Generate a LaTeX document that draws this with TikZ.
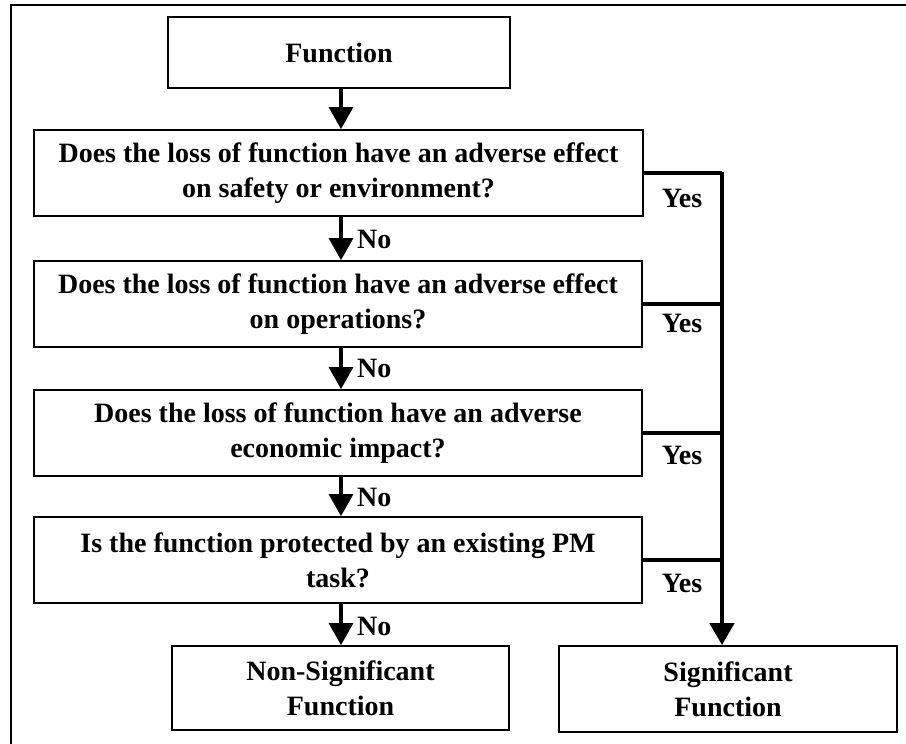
\documentclass[tikz,border=0pt]{standalone}
\usepackage{fontspec}
\setmainfont{Liberation Serif}
\usetikzlibrary{arrows.meta}
\begin{document}
\begin{tikzpicture}[x=1pt,y=-1pt,
  box/.style={draw,line width=1.8pt,rectangle,align=center,inner sep=0pt,
    font=\fontsize{28}{35}\selectfont\bfseries},
  lbl/.style={inner sep=0pt,font=\fontsize{28}{33}\selectfont\bfseries},
  flow/.style={line width=3.2pt,-{Triangle[width=24pt,length=22pt]}},
  branch/.style={line width=3.2pt},
  trunk/.style={line width=4.5pt,-{Triangle[width=24pt,length=22pt]}}]
\useasboundingbox (0,0) rectangle (906,744);
% outer frame (right and bottom sides lie outside the picture)
\draw[line width=2pt] (11,744) -- (11,5) -- (906,5);

\node[box,minimum width=342,minimum height=71] (func) at (339,52.5) {Function};
\node[box,minimum width=609,minimum height=86] (q1) at (338.5,173)
  {Does the loss of function have an adverse effect\\on safety or environment?};
\node[box,minimum width=608,minimum height=86] (q2) at (338,304)
  {Does the loss of function have an adverse effect\\on operations?};
\node[box,minimum width=608,minimum height=86] (q3) at (338,433)
  {Does the loss of function have an adverse\\economic impact?};
\node[box,minimum width=608,minimum height=86] (q4) at (338,560)
  {Is the function protected by an existing PM\\task?};
\node[box,minimum width=337,minimum height=84] (ns) at (340.5,688)
  {Non-Significant\\Function};
\node[box,minimum width=338,minimum height=86] (sig) at (728,689)
  {Significant\\Function};

% No path
\draw[flow] (func.south -| 341,0) -- (q1.north -| 341,0);
\draw[flow] (q1.south -| 341,0) -- (q2.north -| 341,0);
\draw[flow] (q2.south -| 341,0) -- (q3.north -| 341,0);
\draw[flow] (q3.south -| 341,0) -- (q4.north -| 341,0);
\draw[flow] (q4.south -| 341,0) -- (ns.north -| 341,0);

\node[lbl,anchor=west] (no1) at (357,239) {No};
\node[lbl,anchor=west] (no2) at (357,368) {No};
\node[lbl,anchor=west] (no3) at (357,497) {No};
\node[lbl,anchor=west] (no4) at (357,626) {No};

% Yes path
\coordinate (vtop) at (722,172.4);
\draw[branch] (q1.east) -- (q1.east -| vtop);
\draw[branch] (q2.east) -- (q2.east -| vtop);
\draw[branch] (q3.east) -- (q3.east -| vtop);
\draw[branch] (q4.east) -- (q4.east -| vtop);
\draw[trunk] (vtop) -- (vtop |- sig.north);

\node[lbl] (y1) at (682,198) {Yes};
\node[lbl] (y2) at (682,323) {Yes};
\node[lbl] (y3) at (682,455) {Yes};
\node[lbl] (y4) at (682,583) {Yes};
\end{tikzpicture}
\end{document}
